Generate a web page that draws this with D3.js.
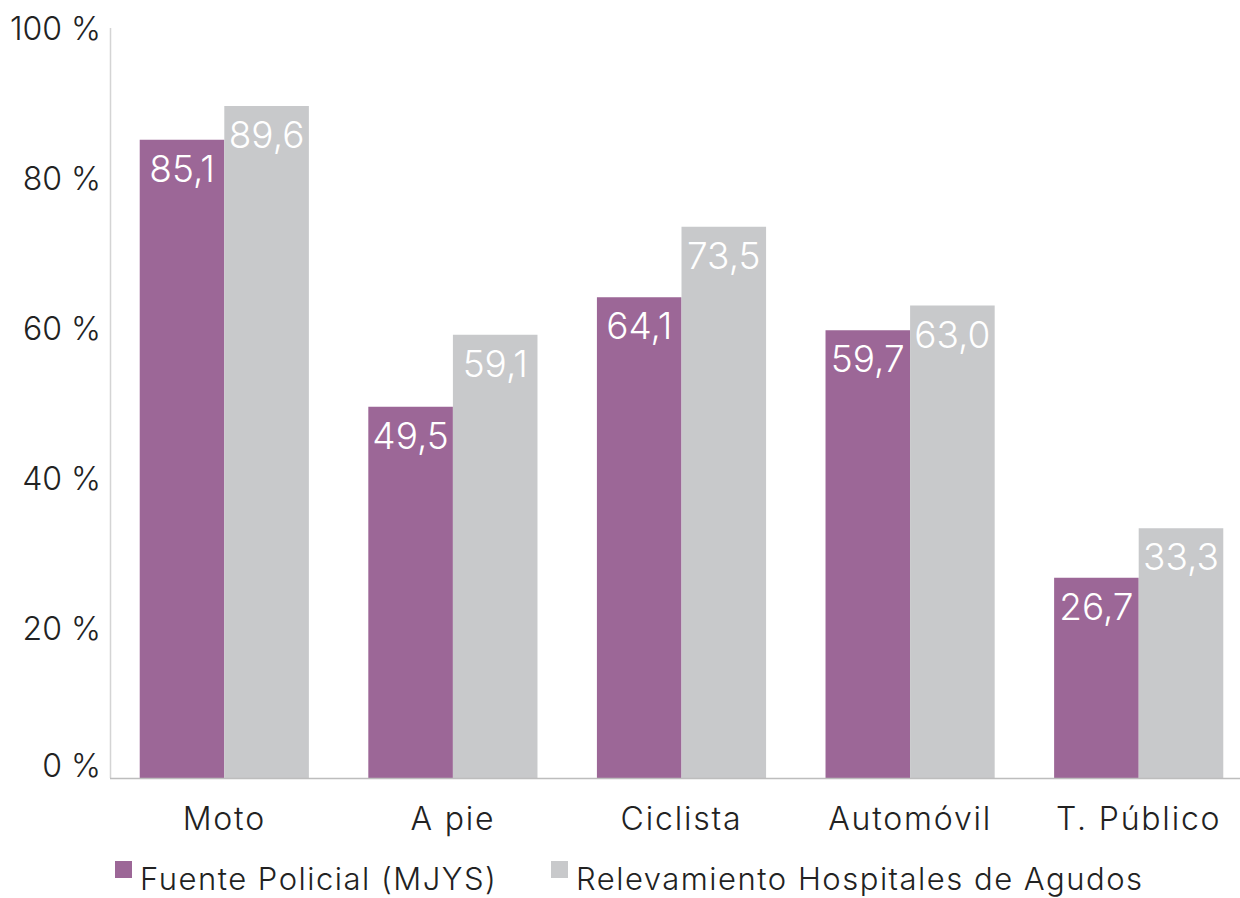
<!DOCTYPE html>
<html>
<head>
<meta charset="utf-8">
<script src="https://cdn.jsdelivr.net/npm/d3@7"></script>
<style>
  body { margin: 0; background: #fff; }
  svg text { font-family: Inter, Lato, "Noto Sans", sans-serif; font-weight: 300; }
</style>
</head>
<body>
<svg id="chart"></svg>
<script>
// Data
const categories = ['Moto', 'A pie', 'Ciclista', 'Automóvil', 'T. Público'];
const seriesNames = ['Fuente Policial (MJYS)', 'Relevamiento Hospitales de Agudos'];
const policial = [85.1, 49.5, 64.1, 59.7, 26.7];
const hospitales = [89.6, 59.1, 73.5, 63.0, 33.3];
const yTicks = [0, 20, 40, 60, 80, 100];

const colors = ['#9c6797', '#c8c9cb'];

const width = 1240, height = 898;
const margin = {top: 28, left: 110, bottom: 120};
const baseY = height - margin.bottom;

const svg = d3.select('#chart')
    .attr('width', width)
    .attr('height', height);

const data = categories.map((c, i) => ({
  cat: c,
  values: [
    {key: seriesNames[0], value: policial[i]},
    {key: seriesNames[1], value: hospitales[i]}
  ]
}));

// Scales
const x0 = d3.scaleBand()
    .domain(categories)
    .range([margin.left, 1253])
    .paddingInner(0.26)
    .paddingOuter(0.13);

const x1 = d3.scaleBand()
    .domain(seriesNames)
    .range([0, x0.bandwidth()]);

const y = d3.scaleLinear()
    .domain([0, 100])
    .range([baseY, margin.top]);

const color = d3.scaleOrdinal().domain(seriesNames).range(colors);

// Axis lines
svg.append('line')
    .attr('x1', margin.left + 0.5).attr('x2', margin.left + 0.5)
    .attr('y1', y(100)).attr('y2', baseY)
    .attr('stroke', '#d4d4d4').attr('stroke-width', 1.5);

// Y axis labels
const yAxis = d3.axisLeft(y)
    .tickValues(yTicks)
    .tickSize(0)
    .tickPadding(9)
    .tickFormat(d => d + ' %');

const yAxisG = svg.append('g')
    .attr('transform', `translate(${margin.left},0)`)
    .call(yAxis);
yAxisG.select('.domain').remove();
yAxisG.selectAll('text')
    .style('font-size', '32px')
    .style('fill', '#222')
    .attr('dy', d => d === 0 ? '-0.05em' : '0.35em');

// Bars
const groups = svg.selectAll('.group')
    .data(data)
  .join('g')
    .attr('class', 'group')
    .attr('transform', d => `translate(${x0(d.cat)},0)`);

groups.selectAll('rect')
    .data(d => d.values)
  .join('rect')
    .attr('x', d => x1(d.key))
    .attr('width', x1.bandwidth())
    .attr('y', d => y(d.value))
    .attr('height', d => baseY - y(d.value))
    .attr('fill', d => color(d.key));

groups.selectAll('.value')
    .data(d => d.values)
  .join('text')
    .attr('class', 'value')
    .attr('x', d => x1(d.key) + x1.bandwidth() / 2)
    .attr('y', d => y(d.value) + 42)
    .attr('text-anchor', 'middle')
    .style('font-size', '37px')
    .style('fill', '#fff')
    .text(d => d3.format('.1f')(d.value).replace('.', ','));

// Baseline
svg.append('line')
    .attr('x1', margin.left).attr('x2', width)
    .attr('y1', baseY + 0.5).attr('y2', baseY + 0.5)
    .attr('stroke', '#bdbdbd').attr('stroke-width', 1.5);

// X axis labels
const xAxis = d3.axisBottom(x0).tickSize(0).tickPadding(0);
const xAxisG = svg.append('g')
    .attr('transform', `translate(0,${baseY})`)
    .call(xAxis);
xAxisG.select('.domain').remove();
xAxisG.selectAll('text')
    .attr('y', 52)
    .attr('dy', 0)
    .style('font-size', '32px')
    .style('letter-spacing', '1.8px')
    .style('fill', '#222');

// Legend
const legendX = [115, 551];
const legend = svg.selectAll('.legend')
    .data(seriesNames)
  .join('g')
    .attr('class', 'legend')
    .attr('transform', (d, i) => `translate(${legendX[i]},861)`);

legend.append('rect')
    .attr('width', 17).attr('height', 17)
    .attr('fill', d => color(d));

legend.append('text')
    .attr('x', 25)
    .attr('y', 29)
    .style('font-size', '31px')
    .style('letter-spacing', '1.5px')
    .style('fill', '#222')
    .text(d => d);
</script>
</body>
</html>
